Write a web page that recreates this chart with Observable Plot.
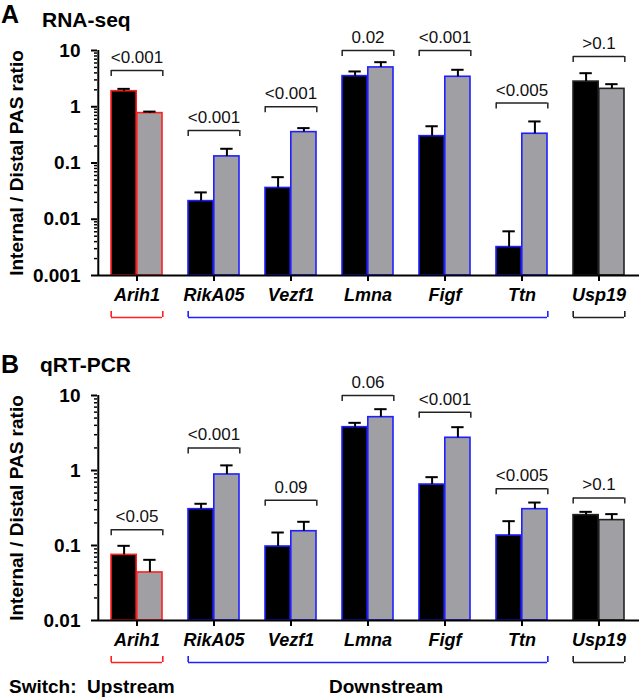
<!DOCTYPE html>
<html><head><meta charset="utf-8">
<script src="https://cdn.jsdelivr.net/npm/d3@7"></script>
<script src="https://cdn.jsdelivr.net/npm/@observablehq/plot@0.6"></script>
<style>
body{margin:0;background:#fff;}
#root{position:relative;width:641px;height:700px;overflow:hidden;font-family:"Liberation Sans",Arial,sans-serif;background:#fff;}
.abs{position:absolute;line-height:1;white-space:pre;font-weight:bold;color:#000;}
.panel{position:absolute;left:0;}
</style></head><body><div id="root"></div>
<script>
// ---- data ----
const genes = ["Arih1", "RikA05", "Vezf1", "Lmna", "Figf", "Ttn", "Usp19"];
const geneGroup = ["up", "down", "down", "down", "down", "down", "none"];
const groupFrom = ["Arih1", "RikA05", "Usp19"];
const groupTo = ["Arih1", "Ttn", "Usp19"];
const groupKey = ["up", "down", "none"];

// Panel A: RNA-seq
const rnaBlack = [1.89, 0.021, 0.036, 3.5, 0.30, 0.0032, 2.8];
const rnaBlackErr = [0.19, 0.009, 0.020, 0.74, 0.15, 0.0029, 1.15];
const rnaGray = [0.77, 0.131, 0.354, 5.0, 3.41, 0.331, 2.08];
const rnaGrayErr = [0.05, 0.048, 0.063, 1.2, 1.13, 0.217, 0.44];
const rnaP = ["<0.001", "<0.001", "<0.001", "0.02", "<0.001", "<0.005", ">0.1"];
const rnaBracket = [4.4, 0.38, 1.0, 10, 10, 1.16, 7.8];
const rnaTicks = [10, 1, 0.1, 0.01, 0.001];
const rnaTickLabels = ["10", "1", "0.1", "0.01", "0.001"];

// Panel B: qRT-PCR
const pcrBlack = [0.075, 0.305, 0.097, 3.78, 0.65, 0.136, 0.254];
const pcrBlackErr = [0.024, 0.055, 0.052, 0.54, 0.165, 0.075, 0.027];
const pcrGray = [0.0437, 0.885, 0.155, 5.14, 2.73, 0.305, 0.218];
const pcrGrayErr = [0.0207, 0.285, 0.052, 1.43, 1.05, 0.069, 0.044];
const pcrP = ["<0.05", "<0.001", "0.09", "0.06", "<0.001", "<0.005", ">0.1"];
const pcrBracket = [0.162, 2.0, 0.4, 10, 6.0, 0.57, 0.43];
const pcrTicks = [10, 1, 0.1, 0.01];
const pcrTickLabels = ["10", "1", "0.1", "0.01"];

const yLabel = "Internal / Distal PAS ratio";

// ---- styles ----
const groupColor = {up: "#ff2020", down: "#2020ff", none: "#222222"};
const grayFill = "#a09fa4";
const W = 641, ML = 97, MR = 2;
const PI = 1 / 3, PO = 1 / 6;
const step = (W - ML - MR) / (genes.length - PI + 2 * PO);
const BW = step * (1 - PI), HB = BW / 2, QB = BW / 4;
const CAP = 13;

function panel({black, blackErr, gray, grayErr, pvals, brackets, ticks, tickLabels, height, marginBottom}) {
  const rows = genes.map((g, i) => ({
    gene: g, color: groupColor[geneGroup[i]],
    black: black[i], blackTop: black[i] + blackErr[i],
    gray: gray[i], grayTop: gray[i] + grayErr[i],
    p: pvals[i], bracket: brackets[i]
  }));
  const groups = groupKey.map((k, i) => ({from: groupFrom[i], to: groupTo[i], color: groupColor[k]}));
  const ymax = d3.max(ticks), ymin = d3.min(ticks);
  const minor = d3.scaleLog().domain([ymin, ymax]).ticks()
    .filter(v => Math.abs(Math.log10(v) - Math.round(Math.log10(v))) > 1e-6);
  const labelOf = new Map(ticks.map((t, i) => [t, tickLabels[i]]));
  return Plot.plot({
    width: W, height, marginLeft: ML, marginRight: MR, marginTop: 50, marginBottom,
    style: {fontFamily: "'Liberation Sans', Arial, sans-serif", background: "white", color: "black", overflow: "visible"},
    x: {type: "band", domain: genes, paddingInner: PI, paddingOuter: PO, axis: null},
    y: {type: "log", domain: [ymin, ymax], axis: null},
    marks: [
      // bars
      Plot.barY(rows, {x: "gene", y1: ymin, y2: "black", fill: "black", stroke: "color", strokeWidth: 1.6, insetRight: HB}),
      Plot.barY(rows, {x: "gene", y1: ymin, y2: "gray", fill: grayFill, stroke: "color", strokeWidth: 1.6, insetLeft: HB}),
      // error bars
      Plot.ruleX(rows, {x: "gene", y1: "black", y2: "blackTop", dx: -QB, stroke: "black", strokeWidth: 2}),
      Plot.ruleX(rows, {x: "gene", y1: "gray", y2: "grayTop", dx: QB, stroke: "black", strokeWidth: 2}),
      Plot.tickY(rows, {x: "gene", y: "blackTop", stroke: "black", strokeWidth: 2, insetLeft: QB - CAP / 2, insetRight: BW - QB - CAP / 2}),
      Plot.tickY(rows, {x: "gene", y: "grayTop", stroke: "black", strokeWidth: 2, insetLeft: BW - QB - CAP / 2, insetRight: QB - CAP / 2}),
      // significance brackets
      Plot.tickY(rows, {x: "gene", y: "bracket", stroke: "#222", strokeWidth: 1.5}),
      Plot.ruleX(rows, {x: "gene", y1: "bracket", y2: "bracket", insetBottom: -6, dx: -HB, stroke: "#222", strokeWidth: 1.5}),
      Plot.ruleX(rows, {x: "gene", y1: "bracket", y2: "bracket", insetBottom: -6, dx: HB, stroke: "#222", strokeWidth: 1.5}),
      Plot.text(rows, {x: "gene", y: "bracket", text: "p", dy: -13, fontSize: 17, fill: "#111"}),
      // y axis
      Plot.axisY(minor, {tickSize: 3, text: null, strokeWidth: 1.5, label: null}),
      Plot.axisY(ticks, {tickSize: 6, tickPadding: 11, strokeWidth: 2, fontSize: 19, fontWeight: "bold",
        tickFormat: d => labelOf.get(d), label: null}),
      Plot.ruleX([genes[0]], {x: d => d, y1: ymin, y2: ymax, dx: -step / 2, stroke: "black", strokeWidth: 2}),
      Plot.text([yLabel], {frameAnchor: "left", textAnchor: "middle", rotate: -90, dx: -81, fontSize: 19, fontWeight: "bold"}),
      // x axis
      Plot.ruleY([ymin], {stroke: "black", strokeWidth: 2}),
      Plot.axisX(genes, {tickSize: 6, tickPadding: 7, strokeWidth: 2, fontSize: 18, fontWeight: "bold", fontStyle: "italic", label: null}),
      // group brackets
      Plot.ruleY(groups, {x1: "from", x2: "to", y: () => ymin, dy: 42, stroke: "color", strokeWidth: 1.6}),
      Plot.ruleX(groups, {x: "from", y1: ymin, y2: ymin, dy: 42, insetTop: -6, dx: -HB, stroke: "color", strokeWidth: 1.6}),
      Plot.ruleX(groups, {x: "to", y1: ymin, y2: ymin, dy: 42, insetTop: -6, dx: HB, stroke: "color", strokeWidth: 1.6})
    ]
  });
}

const root = document.getElementById("root");
function addText(txt, left, top, size) {
  const s = document.createElement("div");
  s.className = "abs"; s.textContent = txt;
  s.style.left = left + "px"; s.style.top = top + "px"; s.style.fontSize = size + "px";
  root.appendChild(s);
}
function addPanel(svg, top) {
  const d = document.createElement("div");
  d.className = "panel"; d.style.top = top + "px";
  d.appendChild(svg); root.appendChild(d);
}

addPanel(panel({black: rnaBlack, blackErr: rnaBlackErr, gray: rnaGray, grayErr: rnaGrayErr, pvals: rnaP,
  brackets: rnaBracket, ticks: rnaTicks, tickLabels: rnaTickLabels, height: 330, marginBottom: 55}), 0);
addPanel(panel({black: pcrBlack, blackErr: pcrBlackErr, gray: pcrGray, grayErr: pcrGrayErr, pvals: pcrP,
  brackets: pcrBracket, ticks: pcrTicks, tickLabels: pcrTickLabels, height: 325, marginBottom: 50}), 345);

addText("A", 1, 2, 25);
addText("RNA-seq", 42, 9, 21);
addText("B", 1, 352, 25);
addText("qRT-PCR", 40, 354, 21);
addText("Switch:  Upstream", 9, 677, 19);
addText("Downstream", 329, 677, 19);
</script></body></html>
